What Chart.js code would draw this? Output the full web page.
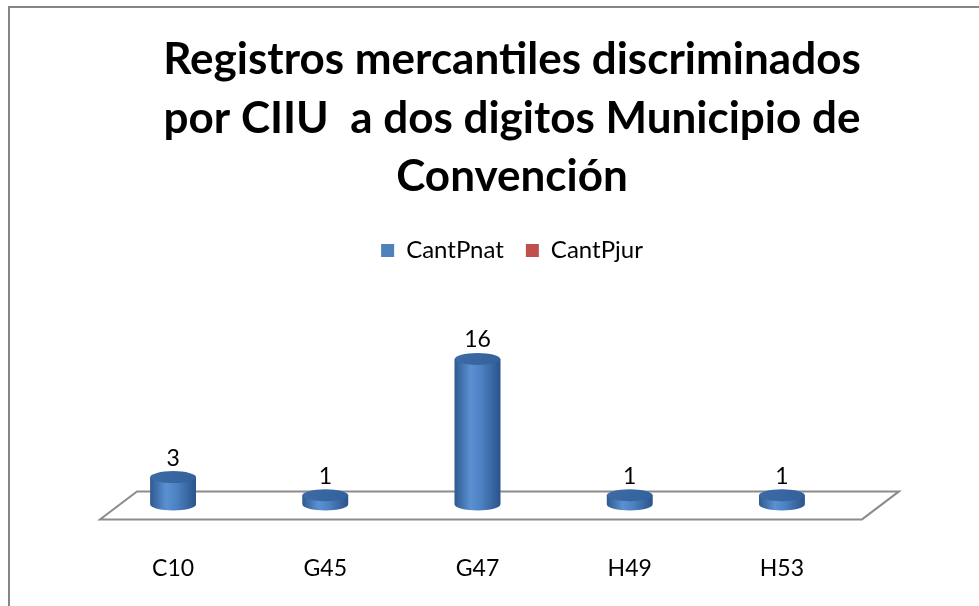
<!doctype html>
<html lang="es">

<head>
    <meta charset="utf-8">
    <title>Registros mercantiles</title>
    <script src="https://cdn.jsdelivr.net/npm/chart.js"></script>
    <style>
        html, body { margin: 0; padding: 0; background: #fff; }
        #wrap { width: 979px; height: 606px; }
    </style>
</head>

<body>
    <div id="wrap"><canvas id="chart" width="979" height="606"></canvas></div>

    <script>
        const categorias = ["C10", "G45", "G47", "H49", "H53"];
        const cantPnat = [3, 1, 16, 1, 1];
        const cantPjur = [null, null, null, null, null];
        const titulo = ["Registros mercantiles discriminados", "por CIIU  a dos digitos Municipio de", "Convención"];

        const fuente = "Lato, 'Open Sans', sans-serif";

        // marco gris del grafico
        const marco = {
            id: 'marco',
            beforeDraw(chart) {
                const c = chart.ctx;
                c.save();
                c.strokeStyle = '#868686';
                c.lineWidth = 2;
                c.beginPath();
                c.moveTo(9, 606);
                c.lineTo(9, 7);
                c.lineTo(979, 7);
                c.stroke();
                c.restore();
            }
        };

        // piso 3d y cilindros
        const cilindros = {
            id: 'cilindros',
            beforeDatasetsDraw(chart) {
                const c = chart.ctx;
                const area = chart.chartArea;
                const base = chart.scales.y.getPixelForValue(0);
                c.save();
                c.strokeStyle = '#8c8c8c';
                c.lineWidth = 2;
                c.beginPath();
                c.moveTo(area.left + 3, base + 15);
                c.lineTo(area.right + 4, base + 15);
                c.lineTo(area.right + 41, base - 13);
                c.lineTo(area.left + 40, base - 13);
                c.closePath();
                c.stroke();
                c.restore();
            },
            afterDatasetsDraw(chart) {
                const c = chart.ctx;
                const meta = chart.getDatasetMeta(0);
                c.save();
                meta.data.forEach((bar, i) => {
                    const v = cantPnat[i];
                    if (v == null) return;
                    const w = bar.width;
                    const x0 = bar.x - w / 2;
                    const top = bar.y;
                    const base = bar.base;
                    const ry = 6;
                    let g = c.createLinearGradient(x0, 0, x0 + w, 0);
                    g.addColorStop(0, '#2f5a90');
                    g.addColorStop(0.35, '#5b91d3');
                    g.addColorStop(0.6, '#4a7fc0');
                    g.addColorStop(1, '#2b538a');
                    c.fillStyle = g;
                    c.beginPath();
                    c.moveTo(x0, top);
                    c.lineTo(x0, base);
                    c.ellipse(bar.x, base, w / 2, ry, 0, Math.PI, 0, true);
                    c.lineTo(x0 + w, top);
                    c.closePath();
                    c.fill();
                    // tapa
                    let g2 = c.createLinearGradient(x0, top - ry, x0 + w, top + ry);
                    g2.addColorStop(0, '#3d6ba6');
                    g2.addColorStop(1, '#33619c');
                    c.fillStyle = g2;
                    c.beginPath();
                    c.ellipse(bar.x, top, w / 2, ry, 0, 0, Math.PI * 2);
                    c.fill();
                    // etiqueta de dato
                    c.fillStyle = '#000';
                    c.font = "23px " + fuente;
                    c.textAlign = 'center';
                    c.textBaseline = 'middle';
                    c.fillText(String(v), bar.x, top - ry - 13);
                });
                c.restore();
            }
        };

        new Chart(document.getElementById('chart'), {
            type: 'bar',
            data: {
                labels: categorias,
                datasets: [{
                    label: 'CantPnat',
                    data: cantPnat,
                    backgroundColor: '#4f81bd',
                    borderWidth: 0
                }, {
                    label: 'CantPjur',
                    data: cantPjur,
                    backgroundColor: '#c0504d',
                    borderWidth: 0
                }]
            },
            options: {
                responsive: false,
                animation: false,
                events: [],
                layout: {
                    padding: { left: 45, right: 0, top: 0, bottom: -18 }
                },
                datasets: {
                    bar: { grouped: false, categoryPercentage: 1, barPercentage: 0.3 }
                },
                plugins: {
                    tooltip: { enabled: false },
                    title: {
                        display: true,
                        text: titulo,
                        color: '#000',
                        font: { family: fuente, size: 44, weight: 'bold', lineHeight: 1.33 },
                        padding: { top: 31, bottom: 10 }
                    },
                    legend: {
                        display: true,
                        labels: {
                            color: '#000',
                            font: { family: fuente, size: 24 },
                            boxWidth: 13,
                            boxHeight: 13,
                            padding: 22
                        }
                    }
                },
                scales: {
                    x: {
                        grid: { display: false },
                        border: { display: false },
                        ticks: { color: '#000', font: { family: fuente, size: 23 }, padding: 42 }
                    },
                    y: {
                        position: 'left',
                        min: 0,
                        max: 25.5,
                        grid: { display: false },
                        border: { display: false },
                        ticks: { display: false },
                        afterFit(s) { s.width = 52; }
                    },
                    y2: {
                        position: 'right',
                        grid: { display: false },
                        border: { display: false },
                        ticks: { display: false },
                        afterFit(s) { s.width = 121; }
                    }
                }
            },
            plugins: [marco, cilindros]
        });
    </script>
</body>

</html>
